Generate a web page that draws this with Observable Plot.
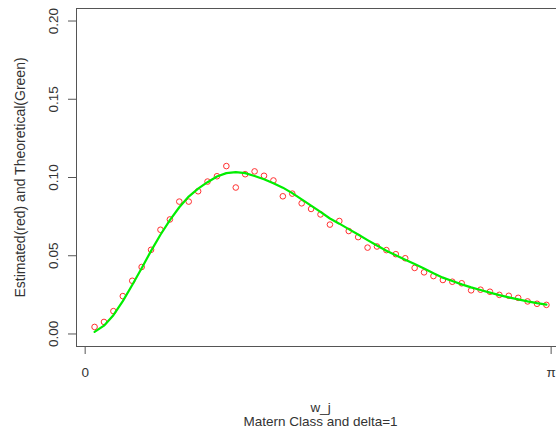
<!DOCTYPE html>
<html>
<head>
<meta charset="utf-8">
<script src="https://cdn.jsdelivr.net/npm/d3@7"></script>
<script src="https://cdn.jsdelivr.net/npm/@observablehq/plot@0.6"></script>
<style>
  html, body { margin: 0; padding: 0; background: #fff; overflow: hidden; }
</style>
</head>
<body>
<div id="chart"></div>
<script>
// Periodogram of a Matern-class series (n = 99) at Fourier frequencies w_j = 2*pi*j/n
const nObs = 99;
const freqIndex = [
  1, 2, 3, 4, 5, 6, 7, 8, 9, 10, 11, 12, 13, 14, 15, 16, 17, 18, 19, 20,
  21, 22, 23, 24, 25, 26, 27, 28, 29, 30, 31, 32, 33, 34, 35, 36, 37, 38, 39, 40,
  41, 42, 43, 44, 45, 46, 47, 48, 49
];

// Estimated spectral density (red circles)
const estimated = [
  0.0045, 0.0077, 0.0146, 0.0242, 0.0340, 0.0428, 0.0538, 0.0666, 0.0732, 0.0846,
  0.0846, 0.0912, 0.0974, 0.1008, 0.1073, 0.0936, 0.1021, 0.1039, 0.1011, 0.0981,
  0.0880, 0.0897, 0.0835, 0.0799, 0.0764, 0.0699, 0.0722, 0.0658, 0.0619, 0.0552,
  0.0559, 0.0536, 0.0510, 0.0484, 0.0422, 0.0394, 0.0370, 0.0345, 0.0334, 0.0324,
  0.0279, 0.0283, 0.0270, 0.0250, 0.0244, 0.0231, 0.0208, 0.0193, 0.0186
];

// Theoretical spectral density (green line)
const theoretical = [
  0.0013, 0.0053, 0.0120, 0.0210, 0.0313, 0.0420, 0.0531, 0.0634, 0.0728, 0.0810,
  0.0878, 0.0929, 0.0970, 0.1006, 0.1028, 0.1034, 0.1028, 0.1010, 0.0989, 0.0963,
  0.0935, 0.0900, 0.0860, 0.0820, 0.0780, 0.0738, 0.0705, 0.0670, 0.0636, 0.0600,
  0.0565, 0.0532, 0.0503, 0.0475, 0.0447, 0.0418, 0.0388, 0.0360, 0.0338, 0.0317,
  0.0298, 0.0281, 0.0264, 0.0248, 0.0234, 0.0221, 0.0208, 0.0197, 0.0188
];

const yLimits = [0, 0.2];
const yTicks = [0, 0.05, 0.10, 0.15, 0.20];
const xTicks = [0, Math.PI];
const xTickLabels = ["0", "π"];
const xTitle = "w_j";
const subTitle = "Matern Class and delta=1";
const yTitle = "Estimated(red) and Theoretical(Green)";

const rows = freqIndex.map((j, i) => ({
  w: 2 * Math.PI * j / nObs,
  est: estimated[i],
  theo: theoretical[i]
}));

// 4% padding on both scales, like R's default axis extension
const [wMin, wMax] = d3.extent(rows, d => d.w);
const xPad = 0.04 * (wMax - wMin);
const yPad = 0.04 * (yLimits[1] - yLimits[0]);

const ink = "#333";
const lineInk = "#555";

const chart = Plot.plot({
  width: 556,
  height: 434,
  marginLeft: 76,
  marginRight: -8,
  marginTop: 8,
  marginBottom: 88,
  style: {
    fontFamily: "'Liberation Sans', Arial, sans-serif",
    fontSize: "13.5px",
    color: ink,
    background: "#fff",
    overflow: "hidden"
  },
  x: { domain: [wMin - xPad, wMax + xPad] },
  y: { domain: [yLimits[0] - yPad, yLimits[1] + yPad] },
  marks: [
    Plot.frame({ stroke: lineInk }),
    Plot.axisY(yTicks, {
      label: null,
      tickSize: 8,
      tickPadding: 11,
      tickRotate: -90,
      tickFormat: d3.format(".2f"),
      stroke: lineInk,
      fill: ink
    }),
    Plot.axisX(xTicks, {
      label: null,
      tickSize: 8,
      tickPadding: 12.5,
      tickFormat: d => xTickLabels[xTicks.indexOf(d)],
      stroke: lineInk,
      fill: ink
    }),
    Plot.dot(rows, { x: "w", y: "est", r: 2.8, stroke: "#ff3030", strokeWidth: 1 }),
    Plot.line(rows, { x: "w", y: "theo", stroke: "#00ee00", strokeWidth: 2.2 }),
    Plot.text([xTitle], {
      text: d => d, frameAnchor: "bottom", dy: 61, lineAnchor: "middle",
      textAnchor: "middle", fontSize: 13.5, fill: ink
    }),
    Plot.text([subTitle], {
      text: d => d, frameAnchor: "bottom", dy: 75.5, lineAnchor: "middle",
      textAnchor: "middle", fontSize: 13.5, fill: ink
    }),
    Plot.text([yTitle], {
      text: d => d, frameAnchor: "left", dx: -56, rotate: -90, lineAnchor: "middle",
      textAnchor: "middle", fontSize: 14, fill: ink
    })
  ]
});

document.getElementById("chart").appendChild(chart);
</script>
</body>
</html>
